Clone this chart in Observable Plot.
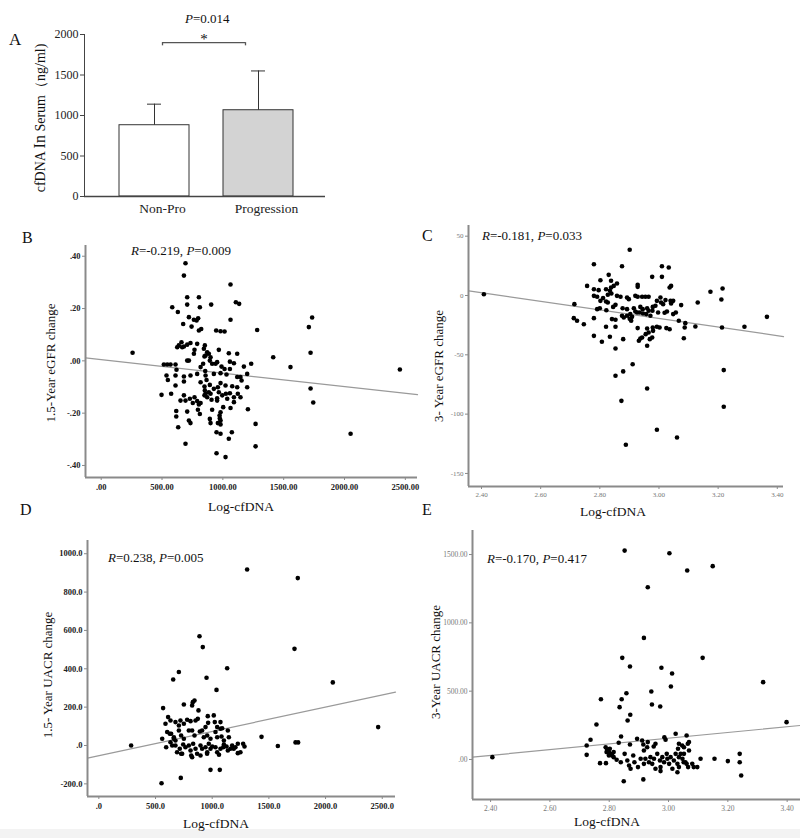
<!DOCTYPE html>
<html><head><meta charset="utf-8">
<script src="https://cdn.jsdelivr.net/npm/d3@7"></script>
<script src="https://cdn.jsdelivr.net/npm/@observablehq/plot@0.6"></script>
<style>
body{margin:0;background:#fff;}
#fig{position:relative;width:800px;height:838px;overflow:hidden;font-family:"Liberation Serif","Times New Roman",serif;color:#111;background:#fff;}
#fig svg{position:absolute;}
.t{position:absolute;white-space:nowrap;line-height:1;}
.r{transform:translate(-50%,-50%) rotate(-90deg);}
.c{transform:translate(-50%,-50%);}
.dark [aria-label^="x-axis"] text,.dark [aria-label^="y-axis"] text{fill:#222;font-weight:bold;}
.light [aria-label^="x-axis"] text,.light [aria-label^="y-axis"] text{fill:#777;}
.pa [aria-label^="y-axis"] text{fill:#222;}
#foot{position:absolute;left:0;top:829px;width:800px;height:9px;background:#f3f3f3;}
</style></head><body><div id="fig"><div id="foot"></div></div>
<script>
// ---------- Panel A data ----------
const groups = ["Non-Pro", "Progression"];
const means = [880, 1065];
const sds = [260, 485];
const bracketY = [1900];
const bracketEnd = [1860];
const yTicksA = [0, 500, 1000, 1500, 2000];

// ---------- Panel B data (x: cfDNA, y: 1.5-year eGFR change) ----------
const bX = [693,680,1063,707,803,1107,1134,707,904,584,811,630,721,797,784,1063,1734,762,674,743,822,803,945,981,1014,1282,1707,660,638,680,707,734,789,625,666,767,844,852,871,858,967,885,762,258,899,849,1049,1118,1058,1091,1414,1721,707,721,543,570,611,515,893,912,940,817,838,953,989,1014,1233,1058,1173,1556,2455,619,537,548,611,680,734,789,855,858,866,926,981,1030,1118,1145,1200,1154,1721,611,680,817,893,926,849,852,885,981,959,1022,1077,1118,1200,858,899,967,496,575,680,729,767,789,803,871,849,907,953,995,1025,1058,1091,1036,1123,1145,753,817,953,1091,652,693,1743,617,617,707,795,811,912,1003,981,973,1063,1206,721,734,893,975,899,959,981,981,1269,948,981,1074,633,2050,693,1049,1269,948,1022];
const bY = [.373,.326,.292,.243,.243,.224,.218,.215,.215,.205,.205,.187,.167,.163,.154,.157,.166,.157,.141,.131,.122,.116,.116,.113,.112,.118,.129,.071,.059,.055,.062,.068,.065,.052,.052,.042,.046,.059,.033,.020,.042,.027,.027,.031,.014,.017,.029,.027,-.003,-.009,.014,.031,.001,.001,-.014,-.014,-.014,-.014,.001,-.011,-.011,-.024,-.011,-.005,-.022,-.031,-.011,-.031,-.022,-.024,-.033,-.034,-.056,-.073,-.056,-.060,-.056,-.050,-.039,-.056,-.073,-.050,-.047,-.052,-.062,-.062,-.050,-.075,-.106,-.094,-.079,-.082,-.092,-.107,-.098,-.113,-.120,-.085,-.101,-.094,-.097,-.101,-.101,-.126,-.126,-.120,-.130,-.126,-.132,-.145,-.139,-.154,-.167,-.139,-.132,-.149,-.143,-.132,-.126,-.124,-.139,-.145,-.126,-.139,-.161,-.161,-.152,-.158,-.152,-.152,-.159,-.192,-.213,-.194,-.187,-.203,-.187,-.177,-.197,-.209,-.180,-.185,-.228,-.238,-.222,-.220,-.238,-.238,-.228,-.243,-.241,-.273,-.279,-.273,-.254,-.279,-.317,-.298,-.327,-.353,-.368];
const bFitX = [-129, 2600];
const bFitY = [0.011, -0.129];
const bTicksX = [0, 500, 1000, 1500, 2000, 2500];
const bTicksY = [-0.4, -0.2, 0, 0.2, 0.4];

// ---------- Panel C data (x: log cfDNA, y: 3-year eGFR change) ----------
const cX = [2.408,2.901,2.780,2.875,3.010,3.033,2.830,2.977,3.010,2.802,2.838,2.858,2.757,2.780,2.796,2.821,2.847,2.834,2.838,2.928,2.928,3.041,3.036,3.174,3.215,2.780,2.791,2.811,2.827,2.839,2.858,2.870,2.802,2.821,2.827,2.892,2.898,2.920,2.928,2.943,2.954,2.965,2.993,3.005,3.022,3.039,3.048,2.988,2.979,2.960,2.937,2.945,2.965,2.978,3.007,3.014,3.041,3.075,3.131,3.211,2.714,2.791,2.800,2.822,2.845,2.853,2.877,2.892,2.915,2.920,2.903,2.892,2.881,2.901,2.909,2.926,2.935,2.946,2.957,2.971,2.997,3.019,3.027,3.048,3.057,3.067,3.089,3.087,3.084,3.123,3.213,3.289,3.365,2.712,2.723,2.746,2.780,2.821,2.841,2.853,2.875,2.906,2.928,2.960,2.979,2.993,3.002,3.025,3.036,2.980,2.965,2.955,2.943,2.932,2.937,2.960,2.969,2.977,2.780,2.807,2.834,2.853,2.879,2.853,3.219,2.853,2.879,2.911,2.960,2.873,3.219,2.993,3.061,2.888];
const cY = [1.1,38.5,26.4,24.7,24.7,23.6,17.4,15.7,15.7,12.9,12.4,10.1,8.1,5.3,4.5,5.3,8.1,3.9,6.7,9.0,7.3,8.1,6.7,3.1,5.9,-0.3,-1.1,-2.2,0.6,1.7,-0.3,-1.1,-4.5,-5.1,-5.9,-1.7,-3.1,-0.3,-1.1,-1.1,-1.1,-1.1,-4.5,-1.7,-3.9,-4.5,-4.5,-8.7,-9.6,-10.7,-9.6,-11.5,-12.9,-12.9,-5.9,-7.3,-6.7,-8.1,-5.9,-3.4,-7.3,-11.5,-10.7,-12.4,-9.6,-7.9,-10.7,-11.5,-10.7,-13.5,-15.7,-17.1,-18.5,-19.7,-18.0,-14.3,-14.3,-15.2,-15.7,-17.1,-14.3,-14.6,-13.5,-15.7,-14.3,-21.3,-23.3,-27.0,-36.0,-26.1,-27.0,-26.4,-18.0,-19.1,-21.3,-24.2,-19.1,-26.4,-19.9,-20.5,-17.1,-21.3,-27.5,-27.8,-27.0,-26.4,-27.0,-27.5,-28.4,-29.8,-31.2,-32.6,-35.4,-38.2,-36.2,-42.4,-36.8,-35.4,-34.0,-39.0,-34.8,-26.4,-36.8,-44.7,-62.9,-67.7,-64.0,-57.9,-78.4,-88.8,-93.8,-113.2,-119.7,-125.8];
const cFitX = [2.357, 3.421];
const cFitY = [3.9, -34.6];
const cTicksX = [2.4, 2.6, 2.8, 3.0, 3.2, 3.4];
const cTicksY = [-150, -100, -50, 0, 50];

// ---------- Panel D data (x: cfDNA, y: 1.5-year UACR change) ----------
const dX = [1308,1755,888,917,1726,706,656,950,1132,1038,2064,2464,1435,1579,1735,1758,285,553,723,985,1067,567,750,829,844,823,879,611,961,1014,588,632,676,720,706,750,779,809,853,873,911,941,964,1023,1073,1044,1073,1088,1138,559,603,638,662,676,706,726,750,794,823,844,891,926,956,985,1029,1044,1082,1103,1147,594,632,647,676,714,726,744,764,794,809,815,832,853,867,897,911,941,956,970,985,1000,1029,1044,1073,1103,1126,1138,1161,1176,1205,1226,1249,1285,1273,626,661,690,735,823,897,955,1060,1097,1190,1226];
const dY = [918,873,570,513,504,383,344,353,403,290,329,96,45,-3,16,16,0,-197,-169,-127,-127,195,214,226,235,209,183,148,153,157,113,130,122,130,104,113,134,127,130,139,78,96,118,122,122,96,87,90,78,35,70,61,43,26,78,52,35,78,78,52,73,43,52,35,70,43,47,26,43,-9,17,0,0,-17,-43,5,-9,0,-26,-52,9,-17,-43,0,-17,-9,-35,9,-17,-5,-9,-35,-17,5,-5,-26,-17,0,-9,-40,-35,-5,9,61,35,-35,-43,-61,-52,-43,-48,-9,-17,9];
const dFitX = [-100, 2617];
const dFitY = [-66, 278];
const dTicksX = [0, 500, 1000, 1500, 2000, 2500];
const dTicksY = [-200, 0, 200, 400, 600, 800, 1000];

// ---------- Panel E data (x: log cfDNA, y: 3-year UACR change) ----------
const eX = [2.852,3.003,3.063,3.149,2.930,2.917,2.844,3.115,2.870,2.976,3.012,3.008,3.319,2.942,2.858,2.772,2.842,2.835,2.944,2.972,2.871,2.862,2.757,3.398,2.737,2.724,2.724,2.406,2.840,2.832,2.894,2.870,2.911,2.915,2.930,2.928,2.956,2.950,2.986,2.990,3.024,3.035,3.032,3.061,3.069,3.052,2.788,2.793,2.799,2.804,2.810,2.802,2.815,2.791,2.799,2.815,2.769,2.789,2.825,2.839,2.852,2.861,2.867,2.872,2.849,2.881,2.885,2.897,2.906,2.917,2.917,2.922,2.915,2.934,2.939,2.945,2.951,2.956,2.962,2.971,2.973,2.979,2.985,2.973,2.994,2.996,3.002,3.007,3.013,3.018,3.024,3.030,3.035,3.041,3.047,3.051,3.061,3.066,3.069,3.030,3.080,3.085,3.097,3.108,3.155,3.200,3.240,3.240,3.245,3.046,3.065,3.052,3.035,3.057];
const eY = [1529,1510,1383,1415,1261,890,744,744,680,671,629,534,566,498,485,441,441,383,402,388,327,285,256,273,144,102,34,17,168,122,151,110,139,110,127,90,115,95,163,144,188,115,78,176,127,90,90,71,54,41,29,78,54,54,29,17,-27,-27,-2,-20,41,-7,-44,-68,-159,29,-20,-56,5,66,-32,5,-146,-20,17,-32,5,-68,41,-7,-56,17,-20,-85,41,5,-32,17,-68,-7,41,-32,-56,41,5,-20,-32,-56,66,-93,-32,-56,-56,5,5,-12,41,-20,-117,102,115,41,17,-20];
const eFitX = [2.339, 3.445];
const eFitY = [17, 249];
const eTicksX = [2.4, 2.6, 2.8, 3.0, 3.2, 3.4];
const eTicksY = [0, 500, 1000, 1500];

const fig = document.getElementById("fig");

function place(svg, left, top, cls) {
  svg.style.left = left + "px";
  svg.style.top = top + "px";
  if (cls) svg.classList.add(cls);
  fig.appendChild(svg);
}
function txt(html, left, top, size, extra) {
  const d = document.createElement("div");
  d.className = "t" + (extra ? " " + extra : "");
  d.style.left = left + "px";
  d.style.top = top + "px";
  d.style.fontSize = size + "px";
  d.innerHTML = html;
  fig.appendChild(d);
}
const trimZero = (s) => s.replace(/^(-?)0\./, "$1.");

// ---------- Panel A ----------
const barData = groups.map((g, i) => ({group: g, mean: means[i], sd: sds[i]}));
const pA = Plot.plot({
  width: 340, height: 225,
  marginLeft: 84, marginTop: 34, marginRight: 15, marginBottom: 29,
  style: {background: "transparent", fontFamily: "Liberation Serif", fontSize: "12px", color: "#444", overflow: "visible"},
  x: {domain: groups, paddingInner: 0.327, paddingOuter: 0.32, align: 0.525, axis: null},
  y: {domain: [0, 2000], ticks: yTicksA, tickFormat: d => String(d), tickSize: 4, tickPadding: 2, line: true, label: null},
  color: {type: "identity"},
  marks: [
    Plot.barY(barData, {x: "group", y: "mean", fill: d => d.group === "Progression" ? "#d3d3d3" : "#ffffff", stroke: "#333", strokeWidth: 1}),
    Plot.ruleX(barData, {x: "group", y1: "mean", y2: d => d.mean + d.sd, stroke: "#333", strokeWidth: 1}),
    Plot.tickY(barData, {x: "group", y: d => d.mean + d.sd, insetLeft: 28, insetRight: 28, stroke: "#333", strokeWidth: 1}),
    Plot.ruleY([0], {stroke: "#444", strokeWidth: 1.3}),
    Plot.ruleY(bracketY, {x1: () => groups[0], x2: () => groups[1], insetLeft: 43, insetRight: 48, stroke: "#555", strokeWidth: 1.3}),
    Plot.ruleX([groups[0]], {x: d => d, y1: bracketEnd[0], y2: bracketY[0], dx: 8, stroke: "#555", strokeWidth: 1.3}),
    Plot.ruleX([groups[1]], {x: d => d, y1: bracketEnd[0], y2: bracketY[0], dx: -13, stroke: "#555", strokeWidth: 1.3}),
    Plot.text(groups, {x: d => d, frameAnchor: "bottom", dy: 16, dx: 8, text: d => d, fontSize: 13.5, fill: "#222"})
  ]
});
place(pA, 0, 0, "pa");
txt("A", 9, 31, 17);
txt("<i>P</i>=0.014", 185, 12, 13);
txt("*", 204, 39, 15, "c");
txt("cfDNA <span style='font-size:16px'>In</span> Serum（ng/ml)", 40, 118, 14, "r");

// ---------- scatter helper ----------
function scatter(o) {
  const pts = o.xs.map((x, i) => ({x, y: o.ys[i]}));
  const fit = o.fx.map((x, i) => ({x, y: o.fy[i]}));
  return Plot.plot({
    width: o.width, height: o.height,
    marginLeft: o.mL, marginTop: o.mT, marginRight: o.mR, marginBottom: o.mB,
    style: {background: "transparent", fontFamily: "Liberation Serif", fontSize: o.fs + "px", color: "#8a8a8a", overflow: "visible"},
    x: {domain: o.xd, ticks: o.xt, tickFormat: o.xf, tickSize: 3, tickPadding: 3, label: null},
    y: {domain: o.yd, ticks: o.yt, tickFormat: o.yf, tickSize: 3, tickPadding: 2, label: null},
    marks: [
      Plot.line(fit, {x: "x", y: "y", stroke: "#9a9a9a", strokeWidth: 1.2}),
      Plot.dot(pts, {x: "x", y: "y", r: 2.3, fill: "#000"}),
      Plot.ruleX([o.xd[0]], {stroke: "#8a8a8a", strokeWidth: 2}),
      Plot.ruleY([o.yd[0]], {stroke: "#8a8a8a", strokeWidth: 2})
    ]
  });
}

// ---------- Panel B ----------
place(scatter({
  width: 430, height: 270, mL: 85, mT: 15, mR: 13, mB: 23, fs: 8.5,
  xd: [-129, 2600], yd: [-0.446, 0.441], xt: bTicksX, yt: bTicksY,
  xf: d => d === 0 ? ".00" : d.toFixed(2), yf: d => trimZero(d.toFixed(2)),
  xs: bX, ys: bY, fx: bFitX, fy: bFitY
}), 0, 230, "dark");
txt("B", 22, 230, 16);
txt("<i>R</i>=-0.219, <i>P</i>=0.009", 131, 244, 13);
txt("1.5-Year eGFR change", 50, 363, 13, "r");
txt("Log-cfDNA", 241, 507, 13.5, "c");

// ---------- Panel C ----------
place(scatter({
  width: 400, height: 290, mL: 68, mT: 10, mR: 17, mB: 19, fs: 7,
  xd: [2.356, 3.421], yd: [-161, 59], xt: cTicksX, yt: cTicksY,
  xf: d => d.toFixed(2), yf: d => String(d),
  xs: cX, ys: cY, fx: cFitX, fy: cFitY
}), 400, 215, "light");
txt("C", 422, 228, 16);
txt("<i>R</i>=-0.181, <i>P</i>=0.033", 482, 229, 13);
txt("3- Year eGFR change", 438, 366, 13, "r");
txt("Log-cfDNA", 613, 512, 13.5, "c");

// ---------- Panel D ----------
place(scatter({
  width: 420, height: 290, mL: 87, mT: 15, mR: 25, mB: 19, fs: 8.5,
  xd: [-100, 2617], yd: [-266, 1069], xt: dTicksX, yt: dTicksY,
  xf: d => d === 0 ? ".0" : d.toFixed(1), yf: d => d === 0 ? ".0" : d.toFixed(1),
  xs: dX, ys: dY, fx: dFitX, fy: dFitY
}), 0, 525, "dark");
txt("D", 20, 502, 16);
txt("<i>R</i>=0.238, <i>P</i>=0.005", 108, 551, 13);
txt("1.5- Year UACR change", 47, 675, 13, "r");
txt("Log-cfDNA", 216, 824, 13.5, "c");

// ---------- Panel E ----------
place(scatter({
  width: 400, height: 300, mL: 72, mT: 10, mR: 0, mB: 21, fs: 7.5,
  xd: [2.339, 3.445], yd: [-293, 1676], xt: eTicksX, yt: eTicksY,
  xf: d => d.toFixed(2), yf: d => d === 0 ? ".00" : d.toFixed(2),
  xs: eX, ys: eY, fx: eFitX, fy: eFitY
}), 400, 520, "light");
txt("E", 422, 502, 16);
txt("<i>R</i>=-0.170, <i>P</i>=0.417", 487, 552, 13);
txt("3-Year UACR change", 435, 662, 13, "r");
txt("Log-cfDNA", 607, 822, 13.5, "c");
</script>
</body></html>
